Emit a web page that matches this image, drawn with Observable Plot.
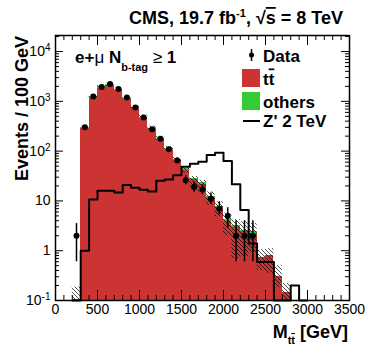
<!DOCTYPE html>
<html><head><meta charset="utf-8">
<script src="https://cdn.jsdelivr.net/npm/d3@7"></script>
<script src="https://cdn.jsdelivr.net/npm/@observablehq/plot@0.6"></script>
<style>body{margin:0;background:#fff;}</style>
</head><body><div id="chart"></div>
<script>
// ---- data ----
const binLo   = [200,300,400,500,600,700,800,900,1000,1100,1200,1300,1400,1500,1600,1700,1800,1900,2000,2100,2200,2300,2400,2500,2600,2700,2800,2900];
const binWidth = 100;
const ttbar   = [0.105,282,1170,1825,2060,1640,1105,712,450,267,168.5,105,63.7,41.1,26.6,21.4,11.6,7.25,3.9,2.95,2.4,2.25,0.72,0.80,0.31,0.145,0,0];
const others  = [0,18,80,125,140,110,75,48,30,18,11.5,7,4.3,2.9,1.9,1.6,0.9,0.55,0.3,0.25,0.2,0.2,0.02,0.02,0,0,0,0];
const uncLo   = [0.06,282,1175,1830,2070,1645,1110,715,432,261,162,100,61,36,19,15,8.2,4.8,2.0,0.7,0.75,0.9,0.40,0.35,0.18,0.05,0,0];
const uncHi   = [0.185,318,1325,2070,2330,1855,1250,805,528,319,198,124,75,47,31,26,15.2,9.6,5.7,4.2,3.8,3.5,1.05,1.1,0.5,0.22,0,0];
const zprime  = [0,1.0,10.7,16,16,14.8,20.8,18.4,16.8,15.5,25.4,27,32.7,48.6,56,61,84,93,63,21.7,6.6,1.39,0.59,0.59,0,0,0.2,0];

const dataMass   = [250,350,450,550,650,750,850,950,1050,1150,1250,1350,1450,1550,1650,1750,1850,1950,2050,2150,2250,2350];
const dataCounts = [2,300,1250,1940,2230,1770,1200,753,473,276,178,109,65,26,19,17,11,7,5,2,2,2];
const dataErrLo  = [0.6,283,1215,1896,2183,1728,1165,726,452,260,165,99,57,21,15,13.5,8.5,5.2,2.9,0.6,0.6,0.6];
const dataErrHi  = [3.5,317,1285,1984,2277,1812,1235,780,494,292,191,119,73,32,24,21,14.5,9.6,7.3,4.0,4.0,4.0];

const xTicks = [0,500,1000,1500,2000,2500,3000,3500];
const yTicks = [0.1,1,10,100,1000,10000];
const yTickLabels = ["10^-1","1","10","10^2","10^3","10^4"];

// ---- layout / style ----
const W = 368, H = 353, mL = 55, mR = 19, mT = 35, mB = 53;
const FW = W - mL - mR, FH = H - mT - mB;
const yMin = 0.1, yMax = 21000;
const RED = "#cc3333", GREEN = "#33cc33";
const FONT = "'Liberation Sans', Arial, Helvetica, sans-serif";

const bins = binLo.map((lo, i) => ({lo, hi: lo + binWidth, tt: ttbar[i], tot: ttbar[i] + others[i], ulo: uncLo[i], uhi: uncHi[i], zp: zprime[i]}));
const zpPts = bins.map(d => ({x: d.lo, y: d.zp})).concat([{x: bins[bins.length-1].hi, y: bins[bins.length-1].zp}]);
const dataTable = dataMass.map((m, i) => ({m, n: dataCounts[i], lo: dataErrLo[i], hi: dataErrHi[i]}));

const xMinor = d3.range(100, 3500, 100).filter(v => v % 500 !== 0);
const yMinor = [];
for (let e = -1; e <= 4; e++) for (let k = 2; k <= 9; k++) { const v = k * Math.pow(10, e); if (v < yMax) yMinor.push(v); }

const svgEl = Plot.plot({
  width: W, height: H, marginLeft: mL, marginRight: mR, marginTop: mT, marginBottom: mB,
  style: {fontFamily: FONT, fontSize: "14px", background: "white", color: "black", overflow: "visible"},
  x: {domain: [0, 3500]},
  y: {type: "log", domain: [yMin, yMax]},
  marks: [
    Plot.rect(bins.filter(d => d.tt > 0), {x1: "lo", x2: "hi", y1: yMin, y2: "tt", fill: RED, shapeRendering: "crispEdges"}),
    Plot.rect(bins.filter(d => d.tot > d.tt), {x1: "lo", x2: "hi", y1: "tt", y2: "tot", fill: GREEN, shapeRendering: "crispEdges"}),
    Plot.rect(bins.filter(d => d.uhi > 0), {x1: "lo", x2: "hi", y1: d => Math.max(d.ulo, yMin), y2: "uhi", fill: "url(#hatch)"}),
    Plot.line(zpPts, {x: "x", y: d => Math.max(d.y, yMin), curve: "step-after", stroke: "black", strokeWidth: 2}),
    Plot.ruleX(dataTable, {x: "m", y1: "lo", y2: "hi", stroke: "black", strokeWidth: 1.5}),
    Plot.dot(dataTable, {x: "m", y: "n", r: 3, fill: "black", stroke: "none"}),
    // inward ticks
    Plot.tickX(xTicks, {x: d => d, insetTop: FH - 10, stroke: "black"}),
    Plot.tickX(xTicks, {x: d => d, insetBottom: FH - 10, stroke: "black"}),
    Plot.tickX(xMinor, {x: d => d, insetTop: FH - 5, stroke: "black"}),
    Plot.tickX(xMinor, {x: d => d, insetBottom: FH - 5, stroke: "black"}),
    Plot.tickY(yTicks, {y: d => d, insetRight: FW - 8, stroke: "black"}),
    Plot.tickY(yTicks, {y: d => d, insetLeft: FW - 8, stroke: "black"}),
    Plot.tickY(yMinor, {y: d => d, insetRight: FW - 4, stroke: "black"}),
    Plot.tickY(yMinor, {y: d => d, insetLeft: FW - 4, stroke: "black"}),
    Plot.axisX({ticks: xTicks, tickSize: 0, tickPadding: 4, fontSize: 14, label: null, tickFormat: d => String(d)}),
    Plot.axisY({ticks: yTicks, tickSize: 0, tickPadding: 5, fontSize: 14, label: null,
      tickFormat: d => yTickLabels[yTicks.indexOf(d)]}),
    Plot.frame({stroke: "black", strokeWidth: 1.5})
  ]
});
document.getElementById("chart").appendChild(svgEl);

const s = d3.select(svgEl);
// hatch pattern
const pat = s.insert("defs", ":first-child").append("pattern")
  .attr("id", "hatch").attr("patternUnits", "userSpaceOnUse").attr("width", 4).attr("height", 4);
pat.append("path").attr("d", "M-1,-1L5,5M-1,3L1,5M3,-1L5,1").attr("stroke", "black").attr("stroke-width", 0.7).attr("fill", "none");

// superscripts in tick labels
s.selectAll("text").each(function() {
  const t = this.textContent;
  if (t.includes("^")) {
    const [b, e] = t.split("^");
    const el = d3.select(this);
    el.text(null);
    el.append("tspan").text(b);
    el.append("tspan").attr("dy", "-0.5em").attr("font-size", "10px").text(e);
  }
});

const g = s.append("g").attr("font-family", FONT).attr("fill", "black").attr("text-anchor", "start");
// title
const title = g.append("text").attr("x", 343).attr("y", 24).attr("text-anchor", "end").attr("font-size", "18px").attr("font-weight", "bold");
title.append("tspan").text("CMS, 19.7 fb");
title.append("tspan").attr("dy", -7).attr("font-size", "11px").text("-1");
title.append("tspan").attr("dy", 7).text(", \u221A");
title.append("tspan").style("text-decoration", "overline").text("s");
title.append("tspan").text(" = 8 TeV");

// y label
g.append("text").attr("transform", "translate(28,36) rotate(-90)").attr("text-anchor", "end")
  .attr("font-size", "18px").attr("font-weight", "bold").text("Events / 100 GeV");

// x label
const xl = g.append("text").attr("x", 348).attr("y", 338).attr("text-anchor", "end").attr("font-size", "18px").attr("font-weight", "bold");
xl.append("tspan").text("M");
xl.append("tspan").attr("dy", 6).attr("font-size", "11px").text("t");
xl.append("tspan").attr("font-size", "11px").style("text-decoration", "overline").text("t");
xl.append("tspan").attr("dy", -6).text(" [GeV]");

// channel label
const cl = g.append("text").attr("x", 75).attr("y", 63).attr("font-size", "17px").attr("font-weight", "bold");
cl.append("tspan").text("e+");
cl.append("tspan").attr("font-weight", "normal").text("\u03BC");
cl.append("tspan").text(" N");
cl.append("tspan").attr("dy", 8).attr("font-size", "11px").text("b-tag");
cl.append("tspan").attr("dy", -8).attr("font-weight", "normal").text(" \u2265 ");
cl.append("tspan").text("1");

// legend
const lg = g.append("g").attr("font-size", "17px").attr("font-weight", "bold");
lg.append("line").attr("x1", 251.5).attr("x2", 251.5).attr("y1", 49).attr("y2", 61).attr("stroke", "black").attr("stroke-width", 1.5);
lg.append("circle").attr("cx", 251.5).attr("cy", 55).attr("r", 2.5).attr("fill", "black");
lg.append("text").attr("x", 263).attr("y", 61.5).text("Data");
lg.append("rect").attr("x", 242).attr("y", 69).attr("width", 18).attr("height", 18).attr("fill", RED);
const tt = lg.append("text").attr("x", 263).attr("y", 84.5);
tt.append("tspan").text("t");
tt.append("tspan").style("text-decoration", "overline").text("t");
lg.append("rect").attr("x", 242).attr("y", 92).attr("width", 18).attr("height", 18).attr("fill", GREEN);
lg.append("text").attr("x", 263).attr("y", 107.5).text("others");
lg.append("line").attr("x1", 243).attr("x2", 260).attr("y1", 121).attr("y2", 121).attr("stroke", "black").attr("stroke-width", 2);
lg.append("text").attr("x", 263).attr("y", 127).text("Z' 2 TeV");
</script>
</body></html>
